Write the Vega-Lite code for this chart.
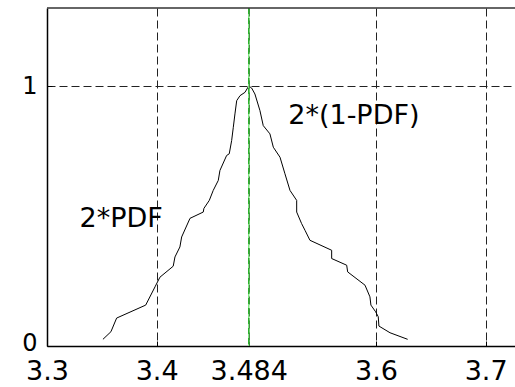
{
  "$schema": "https://vega.github.io/schema/vega-lite/v6.json",
  "width": 468,
  "height": 338,
  "autosize": "none",
  "padding": {"left": 47, "top": 8, "right": 0, "bottom": 41},
  "background": "white",
  "config": {
    "view": {"stroke": null},
    "font": "DejaVu Sans"
  },
  "datasets": {
    "curve": [
      {"o": 1, "x": 3.3510, "y": 0.0257},
      {"o": 2, "x": 3.3583, "y": 0.0549},
      {"o": 3, "x": 3.3635, "y": 0.1074},
      {"o": 4, "x": 3.3900, "y": 0.1573},
      {"o": 5, "x": 3.3985, "y": 0.2275},
      {"o": 6, "x": 3.4030, "y": 0.2647},
      {"o": 7, "x": 3.4151, "y": 0.3069},
      {"o": 8, "x": 3.4167, "y": 0.3425},
      {"o": 9, "x": 3.4212, "y": 0.3809},
      {"o": 10, "x": 3.4228, "y": 0.4193},
      {"o": 11, "x": 3.4304, "y": 0.4910},
      {"o": 12, "x": 3.4425, "y": 0.5152},
      {"o": 13, "x": 3.4431, "y": 0.5293},
      {"o": 14, "x": 3.4480, "y": 0.5600},
      {"o": 15, "x": 3.4516, "y": 0.5984},
      {"o": 16, "x": 3.4562, "y": 0.6368},
      {"o": 17, "x": 3.4577, "y": 0.6751},
      {"o": 18, "x": 3.4638, "y": 0.7327},
      {"o": 19, "x": 3.4662, "y": 0.7392},
      {"o": 20, "x": 3.4684, "y": 0.7902},
      {"o": 21, "x": 3.4699, "y": 0.8412},
      {"o": 22, "x": 3.4714, "y": 0.8926},
      {"o": 23, "x": 3.4730, "y": 0.9436},
      {"o": 24, "x": 3.4760, "y": 0.9628},
      {"o": 25, "x": 3.4805, "y": 0.9755},
      {"o": 26, "x": 3.4840, "y": 1.0000},
      {"o": 27, "x": 3.4866, "y": 0.9923},
      {"o": 28, "x": 3.4896, "y": 0.9693},
      {"o": 29, "x": 3.4942, "y": 0.9053},
      {"o": 30, "x": 3.4972, "y": 0.8477},
      {"o": 31, "x": 3.5033, "y": 0.8159},
      {"o": 32, "x": 3.5064, "y": 0.7645},
      {"o": 33, "x": 3.5125, "y": 0.7261},
      {"o": 34, "x": 3.5170, "y": 0.6624},
      {"o": 35, "x": 3.5216, "y": 0.5984},
      {"o": 36, "x": 3.5277, "y": 0.5600},
      {"o": 37, "x": 3.5277, "y": 0.5152},
      {"o": 38, "x": 3.5322, "y": 0.4707},
      {"o": 39, "x": 3.5353, "y": 0.4450},
      {"o": 40, "x": 3.5398, "y": 0.4066},
      {"o": 41, "x": 3.5596, "y": 0.3682},
      {"o": 42, "x": 3.5596, "y": 0.3364},
      {"o": 43, "x": 3.5733, "y": 0.3107},
      {"o": 44, "x": 3.5742, "y": 0.2850},
      {"o": 45, "x": 3.5900, "y": 0.2340},
      {"o": 46, "x": 3.5945, "y": 0.1891},
      {"o": 47, "x": 3.5954, "y": 0.1573},
      {"o": 48, "x": 3.5997, "y": 0.1316},
      {"o": 49, "x": 3.6021, "y": 0.1124},
      {"o": 50, "x": 3.6027, "y": 0.0767},
      {"o": 51, "x": 3.6128, "y": 0.0510},
      {"o": 52, "x": 3.6289, "y": 0.0257}
    ],
    "labels": [
      {"x": 3.3296, "y": 0.4565, "text": "2*PDF"},
      {"x": 3.5200, "y": 0.8550, "text": "2*(1-PDF)"}
    ],
    "peak": [{"x": 3.484}]
  },
  "layer": [
    {
      "data": {"name": "curve"},
      "mark": {"type": "line", "color": "black", "strokeWidth": 1, "clip": true},
      "encoding": {
        "x": {
          "field": "x", "type": "quantitative",
          "scale": {"domain": [3.3, 3.7268], "nice": false, "zero": false},
          "axis": {
            "title": null,
            "values": [3.3, 3.4, 3.484, 3.6, 3.7],
            "format": ".4~g",
            "labelFontSize": 27, "labelColor": "black", "labelFont": "DejaVu Sans",
            "labelPadding": 17, "labelFlush": false, "labelOverlap": false,
            "domainColor": "black", "domainWidth": 1.5,
            "tickColor": "black", "tickSize": -5,
            "grid": true, "gridColor": "#222", "gridDash": [8, 4], "gridWidth": 1,
            "gridOpacity": {"condition": {"test": "datum.value <= 3.3", "value": 0}, "value": 1}
          }
        },
        "y": {
          "field": "y", "type": "quantitative",
          "scale": {"domain": [0, 1.3], "nice": false},
          "axis": {
            "title": null,
            "values": [0, 1],
            "format": "d",
            "labelFontSize": 24, "labelColor": "black", "labelFont": "DejaVu Sans",
            "labelPadding": 15,
            "labelOffset": {"condition": {"test": "datum.value == 0", "value": -3}, "value": 0},
            "domainColor": "black", "domainWidth": 1.5,
            "tickColor": "black", "tickSize": -5,
            "grid": true, "gridColor": "#222", "gridDash": [8, 4], "gridWidth": 1,
            "gridOpacity": {"condition": {"test": "datum.value <= 0", "value": 0}, "value": 1}
          }
        },
        "order": {"field": "o", "type": "quantitative"}
      }
    },
    {
      "data": {"name": "peak"},
      "mark": {"type": "rule", "color": "#7de87d", "strokeWidth": 1.5},
      "encoding": {"x": {"field": "x", "type": "quantitative"}}
    },
    {
      "data": {"name": "peak"},
      "mark": {"type": "rule", "color": "#2fae2f", "strokeWidth": 1.5, "strokeDash": [6, 4]},
      "encoding": {"x": {"field": "x", "type": "quantitative"}}
    },
    {
      "data": {"name": "peak"},
      "mark": {"type": "rule", "color": "#333", "strokeWidth": 1.5},
      "encoding": {"y": {"datum": 1.3}}
    },
    {
      "data": {"name": "labels"},
      "mark": {"type": "text", "align": "left", "baseline": "alphabetic", "fontSize": 27, "font": "DejaVu Sans", "color": "black"},
      "encoding": {
        "x": {"field": "x", "type": "quantitative"},
        "y": {"field": "y", "type": "quantitative"},
        "text": {"field": "text"}
      }
    }
  ]
}
